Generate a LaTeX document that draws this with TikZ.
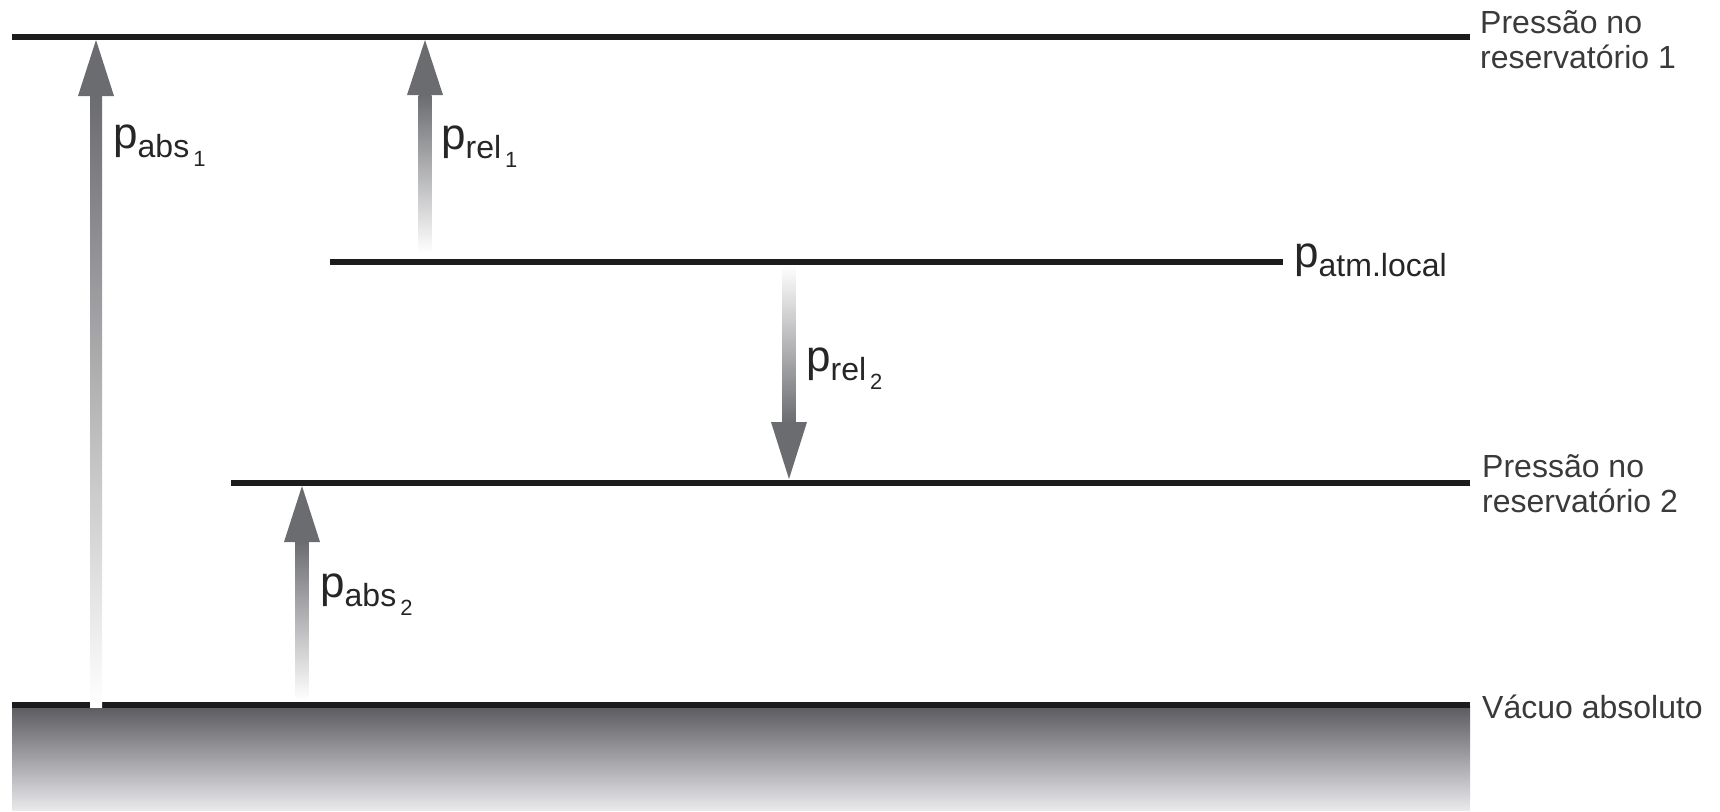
\documentclass[tikz,border=0pt]{standalone}
\usepackage{fontspec}
\setmainfont{Liberation Sans}
\usetikzlibrary{calc}
\definecolor{lvl}{HTML}{1C1C1C}
\definecolor{arr}{HTML}{6B6C70}
\definecolor{gtop}{HTML}{5A5A5F}
\definecolor{gmid}{HTML}{8C8F92}
\definecolor{gbot}{HTML}{E9E9EC}
\definecolor{txt}{HTML}{262626}
\definecolor{rtxt}{HTML}{3A3A3A}
\newcommand{\plbl}[2]{{\fontsize{44}{44}\selectfont p}\raisebox{-9pt}{\fontsize{32}{32}\selectfont #1}\raisebox{-18.5pt}{\fontsize{22}{22}\selectfont\kern4pt #2}}
\begin{document}
\begin{tikzpicture}[x=1pt,y=-1pt,
  level/.style={draw=lvl,line width=5.5pt},
  headc/.style={fill=arr},
  shaftup/.style={top color=arr,bottom color=white},
  shaftdown/.style={top color=white,bottom color=arr},
  plabel/.style={inner sep=0pt,anchor=base west,text=txt},
  rlabel/.style={inner sep=0pt,anchor=base west,align=left,text=rtxt,font=\fontsize{32}{34.5}\selectfont}]
\useasboundingbox (0,0) rectangle (1720,811);
% ground
\shade[top color=gtop,middle color=gmid,bottom color=gbot] (12,706) rectangle (1470,810);
% level lines
\coordinate (L1a) at (12,37);   \coordinate (L1b) at (1470,37);
\coordinate (Lma) at (330,262); \coordinate (Lmb) at (1283,262);
\coordinate (L2a) at (231,483); \coordinate (L2b) at (1470,483);
\coordinate (L0a) at (12,705);  \coordinate (L0b) at (1470,705);
\draw[level] (L1a) -- (L1b);
\draw[level] (Lma) -- (Lmb);
\draw[level] (L2a) -- (L2b);
\draw[level] (L0a) -- (L0b);
% arrow p_abs1
\coordinate (A1t) at (96,707); \coordinate (A1h) at (96,40);
\shade[shaftup] ($(A1t)+(-6,0)$) rectangle ($(A1h)+(6,55)$);
\fill[headc] (A1h) -- ++(-18,56) -- ++(36,0) -- cycle;
% arrow p_rel1
\coordinate (A2t) at (425,253); \coordinate (A2h) at (425,40);
\shade[shaftup] ($(A2t)+(-6.5,0)$) rectangle ($(A2h)+(6.5,55)$);
\fill[headc] (A2h) -- ++(-18,55) -- ++(36,0) -- cycle;
% arrow p_rel2 (down)
\coordinate (A3t) at (789,265); \coordinate (A3h) at (789,479);
\shade[shaftdown] ($(A3t)+(-6.5,0)$) rectangle ($(A3h)+(6.5,-56)$);
\fill[headc] (A3h) -- ++(-18,-57) -- ++(36,0) -- cycle;
% arrow p_abs2
\coordinate (A4t) at (302,700); \coordinate (A4h) at (302,486);
\shade[shaftup] ($(A4t)+(-6.5,0)$) rectangle ($(A4h)+(6.5,55)$);
\fill[headc] (A4h) -- ++(-18,56) -- ++(36,0) -- cycle;
% arrow labels
\node[plabel] (pabs1) at (113,148) {\plbl{abs}{1}};
\node[plabel] (prel1) at (441,149) {\plbl{rel}{1}};
\node[plabel] (prel2) at (806,371) {\plbl{rel}{2}};
\node[plabel] (pabs2) at (320,597) {\plbl{abs}{2}};
\node[plabel] (patm) at (1294,267) {{\fontsize{44}{44}\selectfont p}\raisebox{-9pt}{\fontsize{32}{32}\selectfont atm.local}};
% right labels (base = baseline of last line)
\node[rlabel] (r1) at (1480,68) {Pressão no\\reservatório 1};
\node[rlabel] (r2) at (1482,512) {Pressão no\\reservatório 2};
\node[rlabel] (r0) at (1482,718) {Vácuo absoluto};
\end{tikzpicture}
\end{document}
